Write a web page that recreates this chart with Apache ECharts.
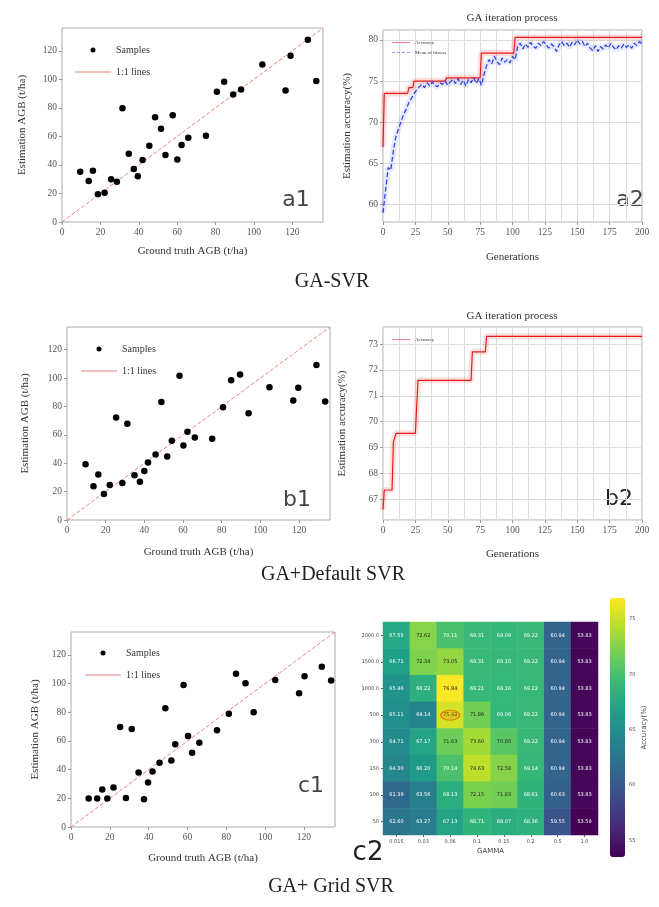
<!DOCTYPE html>
<html>
<head>
<meta charset="utf-8">
<script src="https://cdn.jsdelivr.net/npm/echarts@6/dist/echarts.min.js"></script>
<style>
  html, body { margin: 0; padding: 0; background: #fff; }
  #main { width: 659px; height: 907px; }
</style>
</head>
<body>
<div id="main"></div>
<script>
// scatter panels: ground truth vs estimated AGB (t/ha)
var a1Truth = [9.5, 13.9, 16.1, 18.7, 22.2, 25.6, 28.6, 31.5, 34.8, 37.4, 39.5, 42, 45.5, 48.5, 51.6, 53.9, 57.7, 60.1, 62.3, 65.8, 75, 80.7, 84.5, 89.2, 93.3, 104.4, 116.5, 119.1, 128.1, 132.5];
var a1Est = [35.3, 28.7, 36, 19.5, 20.5, 30, 28.2, 79.8, 47.8, 37.2, 32, 43.5, 53.4, 73.4, 65.4, 47, 74.8, 43.8, 53.9, 59, 60.5, 91.3, 98.4, 89.4, 92.9, 110.4, 92.2, 116.5, 127.8, 98.8];

var b1Truth = [9.6, 13.7, 16.2, 19.1, 22.1, 25.4, 28.6, 31.2, 34.9, 37.7, 40, 41.9, 45.8, 48.8, 51.8, 54.2, 58.2, 60.2, 62.3, 66.1, 75.1, 80.7, 84.9, 89.5, 93.9, 104.7, 117, 119.6, 129, 133.5];
var b1Est = [39.3, 23.8, 32, 18.4, 24.7, 72.2, 26.1, 67.8, 31.5, 27, 34.6, 40.5, 46.1, 83.1, 44.7, 55.8, 101.6, 52.5, 62.1, 58.1, 57.2, 79.5, 98.4, 102.6, 75.3, 93.6, 84.2, 93.2, 109.2, 83.5];

var c1Truth = [9.1, 13.5, 16.1, 18.7, 21.9, 25.3, 28.3, 31.3, 34.8, 37.6, 39.7, 42, 45.6, 48.6, 51.7, 53.7, 58, 60.3, 62.4, 66.1, 75.2, 81.3, 85, 89.9, 94.1, 105.2, 117.5, 120.3, 129.2, 134];
var c1Est = [19.8, 19.8, 26.1, 19.8, 27.5, 69.7, 20.3, 68.3, 38, 19.3, 31, 38.7, 44.8, 82.8, 46.4, 57.8, 99.1, 63.4, 51.7, 58.7, 67.4, 79, 106.8, 100.2, 80, 102.6, 93.2, 105.1, 111.7, 102.1];

var oneToOne = [[0, 0], [136, 136]];

// GA iteration (GA-SVR): best accuracy step corners and mean fitness
var a2AccGen = [0, 1, 19, 20, 23, 24, 48, 49, 75, 76, 101, 102, 200];
var a2Acc = [67, 73.5, 73.5, 74.2, 74.2, 75, 75, 75.4, 75.4, 78.4, 78.4, 80.3, 80.3];
var a2MeanGen = [0, 2, 4, 6, 8, 10, 12, 14, 16, 18, 20, 22, 24, 26, 28, 30, 32, 34, 36, 38, 40, 42, 44, 46, 48, 50,
  52, 54, 56, 58, 60, 62, 64, 66, 68, 70, 72, 74, 76, 78, 80, 82, 84, 86, 88, 90, 92, 94, 96, 98, 100,
  102, 104, 106, 108, 110, 112, 114, 116, 118, 120, 122, 124, 126, 128, 130, 132, 134, 136, 138, 140, 142, 144, 146, 148, 150,
  152, 154, 156, 158, 160, 162, 164, 166, 168, 170, 172, 174, 176, 178, 180, 182, 184, 186, 188, 190, 192, 194, 196, 198, 200];
var a2Mean = [59.0, 61.8, 64.5, 64.2, 66.5, 68.3, 69.2, 70.1, 71.0, 71.6, 72.4, 72.9, 73.5, 73.9, 74.3, 74.6, 74.2, 74.8, 74.4, 74.9, 74.5, 74.3, 74.8, 74.6, 75.0, 74.5,
  74.9, 75.2, 74.7, 75.3, 74.6, 75.1, 74.4, 75.2, 74.8, 75.4, 74.7, 75.3, 74.5, 75.8, 76.9, 77.6, 77.1, 78.0, 77.4, 77.0, 77.8, 77.3, 77.6, 77.2, 78.0,
  77.6, 79.2, 79.6, 78.9, 79.5, 79.1, 79.7, 79.2, 79.0, 79.6, 79.3, 79.8, 79.4, 79.0, 79.5, 79.2, 78.6, 79.4, 79.8, 79.3, 79.6, 79.1, 79.7, 79.4, 80.0,
  79.5, 79.8, 79.2, 79.6, 79.0, 78.7, 79.3, 78.6, 79.2, 78.9, 79.4, 79.0, 79.6, 79.1, 78.8, 79.3, 79.0, 79.5, 79.1, 79.4, 79.0, 79.6, 79.3, 79.8, 79.5];

// GA iteration (default SVR)
var b2AccGen = [0, 1, 7, 8, 10, 25, 27, 68, 69, 79, 80, 200];
var b2Acc = [66.6, 67.36, 67.36, 69.2, 69.55, 69.55, 71.6, 71.6, 72.7, 72.7, 73.3, 73.3];

// grid search heatmap
var gammas = ['0.015', '0.03', '0.06', '0.1', '0.15', '0.2', '0.5', '1.0'];
var cValues = ['2000.0', '1500.0', '1000.0', '500', '300', '150', '100', '50'];
var gridAcc = [
  [67.55, 72.62, 70.11, 69.31, 69.09, 69.22, 60.94, 53.83],
  [66.71, 72.34, 73.05, 69.31, 69.15, 69.22, 60.94, 53.83],
  [65.46, 68.22, 76.84, 69.21, 69.16, 69.22, 60.94, 53.83],
  [65.11, 64.14, 75.42, 71.86, 69.06, 69.22, 60.94, 53.83],
  [64.71, 67.17, 71.63, 73.60, 70.80, 69.22, 60.94, 53.83],
  [64.30, 66.20, 70.14, 74.63, 72.58, 69.14, 60.94, 53.83],
  [61.39, 63.56, 68.13, 72.15, 71.83, 68.61, 60.63, 53.83],
  [62.60, 63.27, 67.13, 68.71, 68.07, 68.36, 59.55, 53.59]
];
var bestCell = [['0.06', '500']];
var colorTicks = [53.5, 76.9];

var SERIF = 'Liberation Serif';
var viridis = ['#440154', '#482878', '#3e4989', '#31688e', '#26828e', '#1f9e89', '#35b779', '#6ece58', '#b5de2b', '#fde725'];
var solidIcon = 'path://M0,0H40V1.2H0Z';
var dashIcon = 'path://M0,0H7V1.2H0Z M11,0H18V1.2H11Z M22,0H29V1.2H22Z M33,0H40V1.2H33Z';

function pairs(xs, ys) {
  return xs.map(function (x, i) { return [x, ys[i]]; });
}

function baseAxis(g, o) {
  var ax = {
    gridIndex: g,
    type: 'value',
    nameLocation: 'middle',
    nameTextStyle: { fontFamily: SERIF, fontSize: 11, color: '#333' },
    axisLine: { show: false },
    axisTick: { show: true, length: 3, lineStyle: { color: '#999' } },
    axisLabel: { fontFamily: SERIF, fontSize: 9.5, color: '#555', margin: 5, showMinLabel: true, showMaxLabel: false },
    splitLine: { show: false }
  };
  for (var k in o) ax[k] = o[k];
  return ax;
}

function scatterAxes(g, xGap, yGap) {
  return {
    x: baseAxis(g, { min: 0, max: 136, minInterval: 20, maxInterval: 20, name: 'Ground truth AGB (t/ha)', nameGap: xGap }),
    y: baseAxis(g, { min: 0, max: 136, minInterval: 20, maxInterval: 20, name: 'Estimation AGB (t/ha)', nameGap: yGap })
  };
}

function genAxes(g, yMin, yMax, step, xGap, yGap) {
  var grid = { show: true, lineStyle: { color: '#ddd', width: 1 } };
  return {
    x: baseAxis(g, {
      min: 0, max: 200, minInterval: 25, maxInterval: 25, name: 'Generations', nameGap: xGap,
      splitLine: grid, minorTick: { show: false, splitNumber: 2 }, minorSplitLine: grid,
      axisLabel: { fontFamily: SERIF, fontSize: 9.5, color: '#555', margin: 5, showMinLabel: true, showMaxLabel: true }
    }),
    y: baseAxis(g, {
      min: yMin, max: yMax, minInterval: step, maxInterval: step, name: 'Estimation accuracy(%)', nameGap: yGap,
      splitLine: grid,
      axisLabel: { fontFamily: SERIF, fontSize: 9.5, color: '#555', margin: 5, showMinLabel: false, showMaxLabel: false }
    })
  };
}

var frame = { show: true, borderColor: '#aaa', borderWidth: 1, backgroundColor: '#fff' };
var grids = [
  { left: 62, top: 28, width: 261, height: 194 },
  { left: 383, top: 30, width: 259, height: 192 },
  { left: 67, top: 327, width: 263, height: 193 },
  { left: 383, top: 327, width: 259, height: 193 },
  { left: 71, top: 632, width: 264, height: 195 },
  { left: 383, top: 622, width: 215, height: 213 },
  { left: 610, top: 598, width: 15, height: 259 }
].map(function (g, i) {
  var o = { left: g.left, top: g.top, width: g.width, height: g.height };
  if (i < 5) for (var k in frame) o[k] = frame[k];
  return o;
});

var sa = scatterAxes(0, 24, 34);
var ga = genAxes(1, 57.9, 81.2, 5, 30, 30);
var sb = scatterAxes(2, 27, 36);
var gb = genAxes(3, 66.2, 73.66, 1, 29, 35);
var sc = scatterAxes(4, 26, 30);

var xAxes = [sa.x, ga.x, sb.x, gb.x, sc.x];
var yAxes = [sa.y, ga.y, sb.y, gb.y, sc.y];

// heatmap axes
xAxes.push({
  gridIndex: 5, type: 'category', data: gammas,
  name: 'GAMMA', nameLocation: 'middle', nameGap: 13,
  nameTextStyle: { fontFamily: 'DejaVu Sans', fontSize: 7, color: '#444' },
  axisLine: { show: false },
  axisTick: { show: true, alignWithLabel: true, length: 2, lineStyle: { color: '#666' } },
  axisLabel: { fontFamily: 'DejaVu Sans', fontSize: 5, color: '#444', margin: 4 }
});
yAxes.push({
  gridIndex: 5, type: 'category', data: cValues, inverse: true,
  axisLine: { show: false },
  axisTick: { show: true, alignWithLabel: true, length: 2, lineStyle: { color: '#666' } },
  axisLabel: { fontFamily: 'DejaVu Sans', fontSize: 5, color: '#444', margin: 4 }
});
// colorbar axis
xAxes.push({ gridIndex: 6, type: 'value', show: false });
yAxes.push({
  gridIndex: 6, type: 'value', position: 'right', min: colorTicks[0], max: colorTicks[1],
  minInterval: 5, maxInterval: 5,
  name: 'Accuracy(%)', nameLocation: 'middle', nameRotate: 90, nameGap: 16,
  nameTextStyle: { fontFamily: 'DejaVu Sans', fontSize: 7, color: '#444' },
  axisLine: { show: false },
  axisTick: { show: true, length: 2, lineStyle: { color: '#666' } },
  axisLabel: { fontFamily: 'DejaVu Sans', fontSize: 5, color: '#444', margin: 4, showMinLabel: false, showMaxLabel: false },
  splitLine: { show: false }
});

function samples(name, g, xs, ys) {
  return {
    name: 'Samples', type: 'scatter', xAxisIndex: g, yAxisIndex: g,
    data: pairs(xs, ys), symbolSize: 6.5, itemStyle: { color: '#000', opacity: 1 }, z: 3
  };
}
function diag(g) {
  return {
    name: '1:1 lines', type: 'line', xAxisIndex: g, yAxisIndex: g, data: oneToOne,
    symbol: 'none', itemStyle: { color: '#ee8080' },
    lineStyle: { color: '#ee8080', width: 1, type: 'dashed' }, z: 2
  };
}
function band(name, g, data, color) {
  return {
    name: name, type: 'line', xAxisIndex: g, yAxisIndex: g, data: data, symbol: 'none',
    lineStyle: { color: color, width: 6 }, silent: true, z: 1
  };
}

var heatData = [];
gridAcc.forEach(function (row, r) {
  row.forEach(function (v, c) {
    heatData.push({ value: [c, r, v], label: { color: v > 70.5 ? '#222' : '#fff' } });
  });
});

var series = [
  samples('Samples', 0, a1Truth, a1Est), diag(0),
  band('a2 acc band', 1, pairs(a2AccGen, a2Acc), 'rgba(255,90,90,0.22)'),
  band('a2 mean band', 1, pairs(a2MeanGen, a2Mean), 'rgba(110,140,255,0.18)'),
  { name: 'Accuracy', type: 'line', xAxisIndex: 1, yAxisIndex: 1, data: pairs(a2AccGen, a2Acc), symbol: 'none',
    itemStyle: { color: '#e02020' }, lineStyle: { color: '#e02020', width: 1.2 }, z: 3 },
  { name: 'Mean of fitness', type: 'line', xAxisIndex: 1, yAxisIndex: 1, data: pairs(a2MeanGen, a2Mean), symbol: 'none',
    itemStyle: { color: '#2a3adf' }, lineStyle: { color: '#2a3adf', width: 1.2, type: 'dashed' }, z: 3 },
  samples('Samples', 2, b1Truth, b1Est), diag(2),
  band('b2 acc band', 3, pairs(b2AccGen, b2Acc), 'rgba(255,90,90,0.2)'),
  { name: 'Accuracy', type: 'line', xAxisIndex: 3, yAxisIndex: 3, data: pairs(b2AccGen, b2Acc), symbol: 'none',
    itemStyle: { color: '#e02020' }, lineStyle: { color: '#e02020', width: 1.2 }, z: 3 },
  samples('Samples', 4, c1Truth, c1Est), diag(4),
  { name: 'grid', type: 'heatmap', xAxisIndex: 5, yAxisIndex: 5, data: heatData,
    label: { show: true, fontSize: 5, fontFamily: 'DejaVu Sans',
      formatter: function (p) { return p.value[2].toFixed(2); } } },
  { name: 'best', type: 'scatter', xAxisIndex: 5, yAxisIndex: 5, data: bestCell, symbol: 'circle',
    symbolSize: [19, 10], itemStyle: { color: 'rgba(240,150,20,0.35)', borderColor: '#e07000', borderWidth: 1, opacity: 1 }, z: 4 }
];

function scatterLegend(left, top) {
  return {
    left: left, top: top, orient: 'vertical', itemWidth: 36, itemHeight: 5, itemGap: 12,
    textStyle: { fontFamily: SERIF, fontSize: 10, color: '#333' },
    data: [
      { name: 'Samples', icon: 'circle', itemStyle: { color: '#000' } },
      { name: '1:1 lines', icon: solidIcon, itemStyle: { color: '#ee8080' } }
    ],
    selectedMode: false
  };
}
var legends = [
  scatterLegend(70, 40),
  scatterLegend(76, 339),
  scatterLegend(80, 643),
  { left: 387, top: 35, orient: 'vertical', itemWidth: 18, itemHeight: 4, itemGap: 5, selectedMode: false,
    textStyle: { fontFamily: SERIF, fontSize: 5, color: '#333' },
    data: [
      { name: 'Accuracy', icon: solidIcon, itemStyle: { color: '#e02020' } },
      { name: 'Mean of fitness', icon: dashIcon, itemStyle: { color: '#2a3adf' } }
    ] },
  { left: 387, top: 332, orient: 'vertical', itemWidth: 18, itemHeight: 4, itemGap: 5, selectedMode: false,
    textStyle: { fontFamily: SERIF, fontSize: 5, color: '#333' },
    data: [{ name: 'Accuracy', icon: solidIcon, itemStyle: { color: '#e02020' } }] }
];

function txt(x, y, s, font, color, align) {
  return { type: 'text', x: x, y: y, silent: true,
    style: { text: s, font: font, fill: color, align: align || 'center', verticalAlign: 'middle' } };
}

var graphics = [
  txt(512, 18, 'GA iteration process', '11px ' + SERIF, '#333'),
  txt(512, 316, 'GA iteration process', '11px ' + SERIF, '#333'),
  txt(332, 282, 'GA-SVR', '20px ' + SERIF, '#222'),
  txt(333, 575, 'GA+Default SVR', '20px ' + SERIF, '#222'),
  txt(331, 887, 'GA+ Grid SVR', '20px ' + SERIF, '#222'),
  txt(296, 200, 'a1', '22px "DejaVu Sans"', '#444'),
  txt(630, 200, 'a2', '22px "DejaVu Sans"', '#444'),
  txt(297, 500, 'b1', '22px "DejaVu Sans"', '#444'),
  txt(619, 499, 'b2', '22px "DejaVu Sans"', '#222'),
  txt(311, 786, 'c1', '22px "DejaVu Sans"', '#444'),
  txt(368, 853, 'c2', '26px "DejaVu Sans"', '#222')
];

var chart = echarts.init(document.getElementById('main'));
chart.setOption({
  backgroundColor: '#fff',
  animation: false,
  grid: grids,
  xAxis: xAxes,
  yAxis: yAxes,
  legend: legends,
  visualMap: {
    type: 'continuous', seriesIndex: 12, min: colorTicks[0], max: colorTicks[1],
    calculable: false, left: 610, top: 598, itemWidth: 15, itemHeight: 259, padding: 0,
    text: null, showLabel: false, inRange: { color: viridis }
  },
  graphic: graphics,
  series: series
});
</script>
</body>
</html>
